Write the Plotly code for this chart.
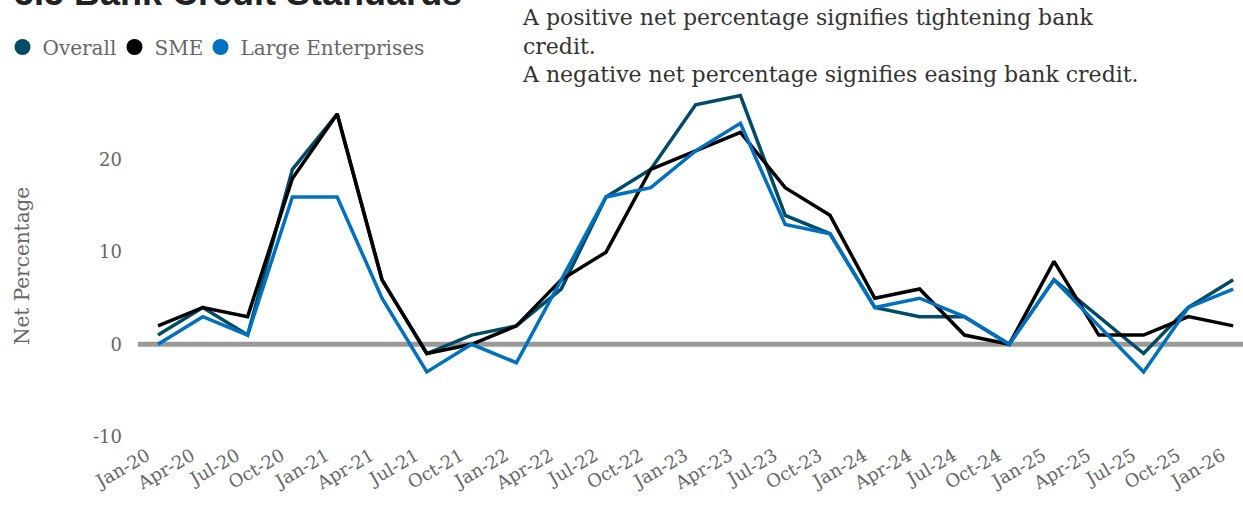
import plotly.graph_objects as go

quarters = ["Jan-20", "Apr-20", "Jul-20", "Oct-20", "Jan-21", "Apr-21", "Jul-21", "Oct-21",
            "Jan-22", "Apr-22", "Jul-22", "Oct-22", "Jan-23", "Apr-23", "Jul-23", "Oct-23",
            "Jan-24", "Apr-24", "Jul-24", "Oct-24", "Jan-25", "Apr-25", "Jul-25", "Oct-25", "Jan-26"]

overall = [1, 4, 1, 19, 25, 7, -1, 1, 2, 6, 16, 19, 26, 27, 14, 12, 4, 3, 3, 0, 7, 3, -1, 4, 7]
sme = [2, 4, 3, 18, 25, 7, -1, 0, 2, 7, 10, 19, 21, 23, 17, 14, 5, 6, 1, 0, 9, 1, 1, 3, 2]
large = [0, 3, 1, 16, 16, 5, -3, 0, -2, 7, 16, 17, 21, 24, 13, 12, 4, 5, 3, 0, 7, 2, -3, 4, 6]

series_names = ["Overall", "SME", "Large Enterprises"]
series_colors = ["#004b66", "#000000", "#0070c0"]
y_ticks = [-10, 0, 10, 20]
y_tick_text = ["-10", "0", "10", "20"]

title_text = "5.5 Bank Credit Standards"
note_text = ("A positive net percentage signifies tightening bank<br>credit.<br>"
             "A negative net percentage signifies easing bank credit.")
y_title = "Net Percentage"

SERIF = "Georgia, 'DejaVu Serif', serif"

L = 60
T = 91
B = 67
W = 1243 - L
H = 508 - T - B
px_per = 44.8
x0 = -(158 - L) / px_per
x1 = x0 + W / px_per

legend_ids = ["legend", "legend2", "legend3"]
legend_px = [2.5, 114.5, 200.5]

fig = go.Figure()
idx = list(range(len(quarters)))
for name, vals, col, lid in zip(series_names, [overall, sme, large], series_colors, legend_ids):
    fig.add_trace(go.Scatter(x=idx, y=vals, mode="lines", name=name,
                             line=dict(color=col, width=3.5), showlegend=False,
                             hovertemplate="%{text}: %{y}<extra>" + name + "</extra>",
                             text=quarters))
    fig.add_trace(go.Scatter(x=[None], y=[None], mode="markers", name=name, legend=lid,
                             marker=dict(color=col, size=20, symbol="circle")))

legend_common = dict(orientation="h", xanchor="left", y=1 + (T - 47) / H, yanchor="middle",
                     font=dict(size=20, color="#666666", family=SERIF),
                     itemsizing="trace", itemwidth=30, bgcolor="rgba(0,0,0,0)")
legends = {}
for lid, lx in zip(legend_ids, legend_px):
    legends[lid] = dict(legend_common, x=(lx - L) / W)

fig.update_layout(
    width=1243, height=508,
    margin=dict(l=L, r=0, t=T, b=B, autoexpand=False),
    paper_bgcolor="white", plot_bgcolor="white",
    font=dict(family=SERIF, color="#666666"),
    showlegend=True,
    **legends,
    xaxis=dict(range=[x0, x1], tickmode="array", tickvals=idx, ticktext=quarters,
               tickangle=-30, showgrid=False, zeroline=False, showline=False, ticks="",
               ticklabelshift=-11,
               tickfont=dict(size=18, color="#666666", family=SERIF)),
    yaxis=dict(range=[-10.5, 27.5], tickvals=y_ticks, ticktext=y_tick_text,
               showgrid=False, zeroline=False,
               showline=False, ticks="", anchor="free", position=(138 - L) / W,
               ticklabelstandoff=16,
               tickfont=dict(size=18, color="#666666", family=SERIF)),
    shapes=[dict(type="line", xref="paper", yref="y", x0=(138 - L) / W, x1=1, y0=0, y1=0,
                 line=dict(color="#999999", width=5), layer="below")],
    annotations=[
        dict(text="<b>" + title_text + "</b>", xref="paper", yref="paper", x=(12 - L) / W,
             y=1 + (T - 15) / H,
             xanchor="left", yanchor="bottom", showarrow=False,
             font=dict(family="'Liberation Sans', Arial, sans-serif", size=36, color="#222222"),
             ),
        dict(text=note_text, xref="paper", yref="paper", x=(520 - L) / W, y=1 + (T - 3) / H,
             xanchor="left", yanchor="top", align="left", showarrow=False,
             font=dict(family=SERIF, size=22, color="#333333")),
        dict(text=y_title, xref="paper", yref="paper", x=(22 - L) / W, y=0.5,
             xanchor="center", yanchor="middle", textangle=-90, showarrow=False,
             font=dict(family=SERIF, size=20, color="#666666")),
    ],
)

fig.write_html("out.html", config={"displayModeBar": False},
               post_script="document.body.style.margin='0';")
